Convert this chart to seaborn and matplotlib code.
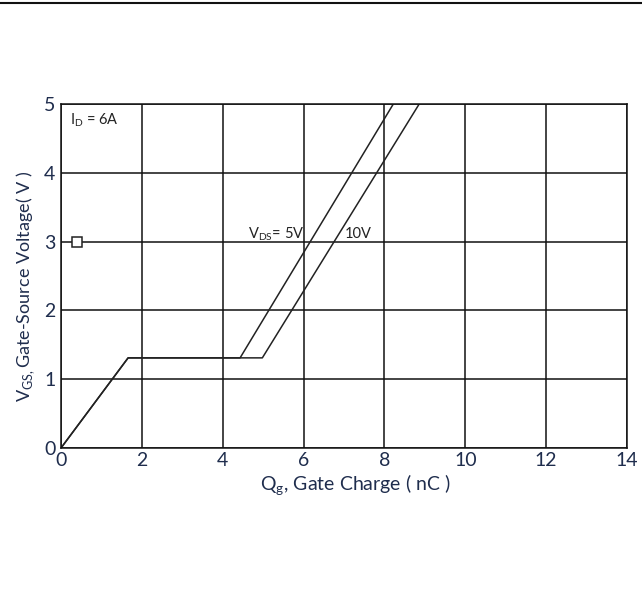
import matplotlib
matplotlib.use("Agg")
import matplotlib.pyplot as plt
import seaborn as sns
import pandas as pd
from matplotlib.lines import Line2D

# Data
q_5v = [0.0, 1.66, 4.43, 8.22]
v_5v = [0.0, 1.31, 1.31, 5.0]
q_10v = [0.0, 1.66, 4.98, 8.86]
v_10v = [0.0, 1.31, 1.31, 5.0]
marker_q = [0.4]
marker_v = [3.0]
x_ticks = [0, 2, 4, 6, 8, 10, 12, 14]
y_ticks = [0, 1, 2, 3, 4, 5]

sns.set_style("white")
plt.rcParams['font.family'] = ['Lato', 'DejaVu Sans']
plt.rcParams['mathtext.fontset'] = 'custom'
plt.rcParams['mathtext.rm'] = 'Lato'

navy = '#1f2d4d'

fig = plt.figure(figsize=(6.42, 5.91), dpi=100)
ax = fig.add_axes([61/642, 1-448/591, (627-61)/642, (448-104)/591])

df = pd.concat([
    pd.DataFrame({'q': q_5v, 'v': v_5v, 's': '5V'}),
    pd.DataFrame({'q': q_10v, 'v': v_10v, 's': '10V'}),
])
sns.lineplot(data=df, x='q', y='v', units='s', estimator=None, sort=False,
             color='#222222', lw=1.1, ax=ax, legend=False)
ax.plot(marker_q, marker_v, marker='s', ms=7, mfc='white', mec='#222222',
        mew=1.1, ls='none')

ax.set_xlim(0, 14)
ax.set_ylim(0, 5)
ax.set_xticks(x_ticks)
ax.set_yticks(y_ticks)
ax.set_xticks([1, 3, 5, 7, 9, 11, 13], minor=True)
ax.set_yticks([0.5, 1.5, 2.5, 3.5, 4.5], minor=True)
ax.grid(True, which='major', color='#111111', lw=1.1)
ax.tick_params(which='major', length=0, labelsize=14, labelcolor=navy)
ax.tick_params(axis='y', which='major', pad=4)
ax.tick_params(axis='x', which='major', pad=3)
ax.tick_params(which='minor', direction='in', length=5, width=1, color='#111111')
for sp in ax.spines.values():
    sp.set_color('#111111')
    sp.set_linewidth(1.1)

ax.set_xlabel(r'Q$_\mathregular{g}$, Gate Charge ( nC )', fontsize=14, color=navy)
ax.set_ylabel(r'V$_\mathregular{GS,}$Gate-Source Voltage( V )', fontsize=13, color=navy)
ax.xaxis.set_label_coords(0.52, -0.072)
ax.yaxis.set_label_coords(-0.043, 0.47)

ax.text(0.22, 4.77, r'I$_\mathregular{D}$ = 6A', fontsize=10.5, color='#222222', va='center', ha='left')
ax.text(4.63, 3.11, r'V$_\mathregular{DS}$= 5V', fontsize=10.5, color='#222222', va='center', ha='left')
ax.text(7.03, 3.11, '10V', fontsize=10.5, color='#222222', va='center', ha='left')

fig.add_artist(Line2D([0, 1], [1-3/591, 1-3/591], color='#111111', lw=1.5, transform=fig.transFigure))

fig.savefig('out.png', dpi=100, facecolor='white')
